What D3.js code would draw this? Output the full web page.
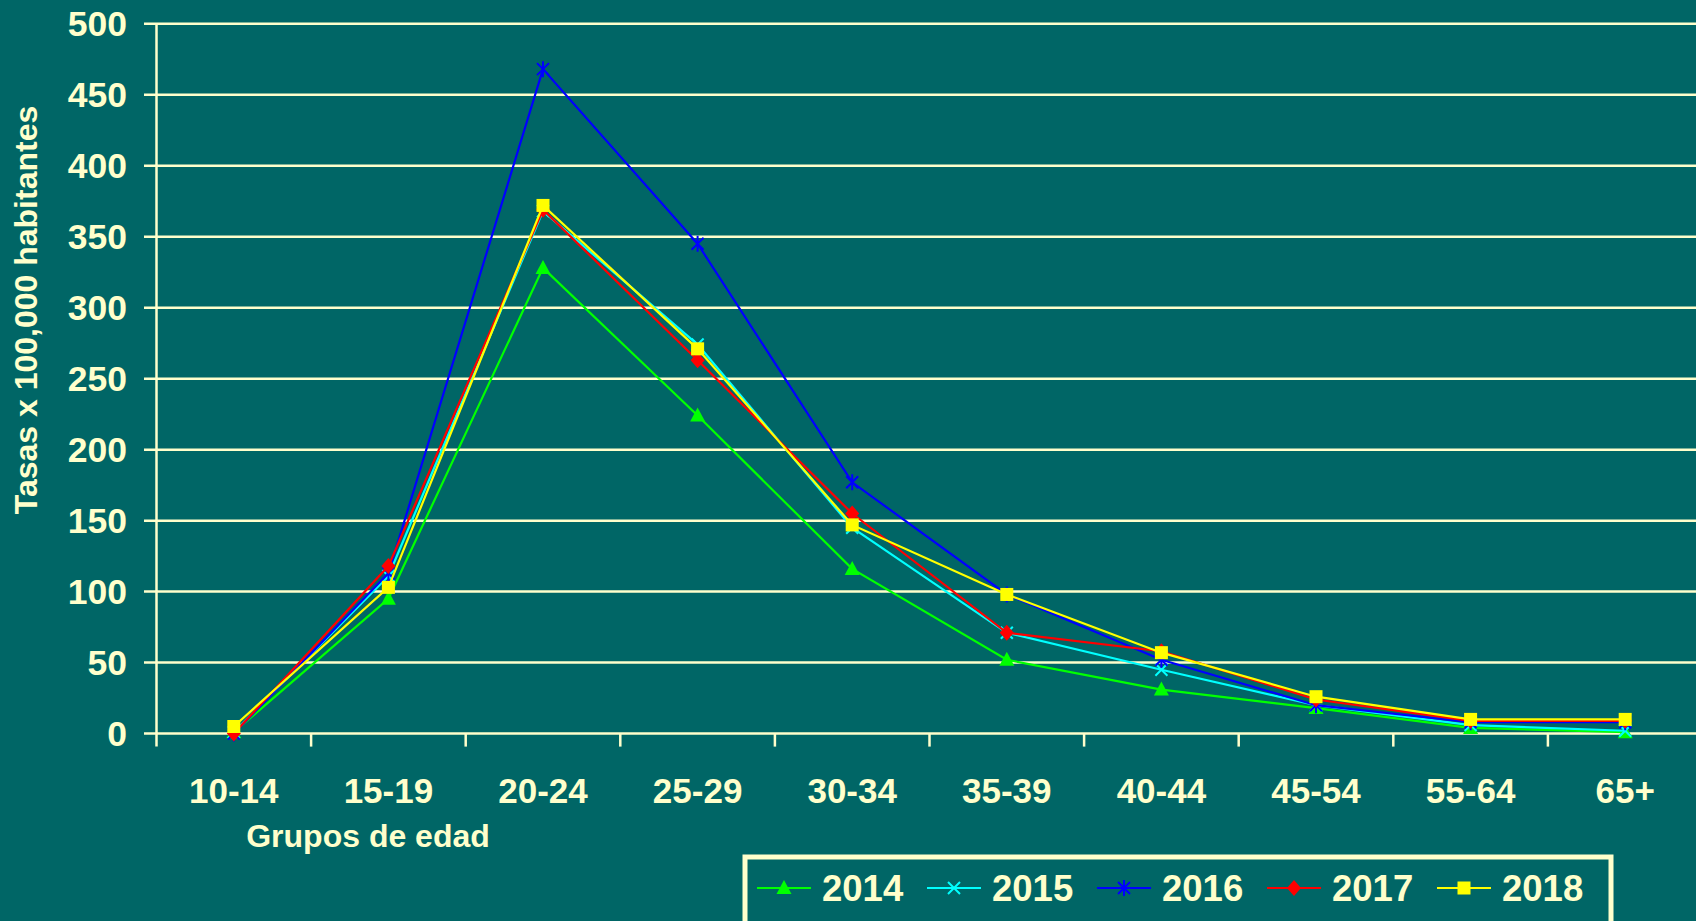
<!DOCTYPE html>
<html lang="es">
<head>
<meta charset="utf-8">
<title>Tasas por grupos de edad</title>
<script src="https://d3js.org/d3.v7.min.js"></script>
<style>
  html, body { margin: 0; padding: 0; background: #006666; }
  svg { display: block; }
  text { font-family: "Liberation Sans", Arial, sans-serif; font-weight: bold; fill: #FFFFCC; }
</style>
</head>
<body>
<script>
// data
const groups = ["10-14", "15-19", "20-24", "25-29", "30-34", "35-39", "40-44", "45-54", "55-64", "65+"];
const years = ["2014", "2015", "2016", "2017", "2018"];
const v2014 = [1, 95, 328, 224, 116, 52, 31, 18, 4, 1];
const v2015 = [1, 111, 368, 274, 145, 71, 45, 20, 6, 2];
const v2016 = [0, 113, 468, 345, 177, 98, 52, 20, 8, 8];
const v2017 = [0, 118, 369, 263, 155, 71, 58, 24, 9, 9];
const v2018 = [5, 103, 372, 271, 147, 98, 57, 26, 10, 10];
const yTicks = [0, 50, 100, 150, 200, 250, 300, 350, 400, 450, 500];

const colors = ["#00FF00", "#00FFFF", "#0000FF", "#FF0000", "#FFFF00"];
const shapes = ["triangle", "x", "star", "diamond", "square"];
const series = years.map((y, i) => ({
  year: y, values: [v2014, v2015, v2016, v2017, v2018][i], color: colors[i], shape: shapes[i]
}));

const W = 1696, H = 921;
const cream = "#FFFFCC";

const svg = d3.select("body").append("svg").attr("width", W).attr("height", H);
svg.append("rect").attr("width", W).attr("height", H).attr("fill", "#006666");

const x = d3.scaleBand().domain(groups).range([156.5, 156.5 + 154.6 * groups.length]).padding(0);
const y = d3.scaleLinear().domain([0, 500]).range([733.6, 23.7]);

// grid lines + y ticks
svg.append("g").selectAll("line").data(yTicks).enter().append("line")
  .attr("x1", 144).attr("x2", W)
  .attr("y1", d => y(d)).attr("y2", d => y(d))
  .attr("stroke", cream).attr("stroke-width", 2.5);

// y axis line
svg.append("line").attr("x1", 156.5).attr("x2", 156.5)
  .attr("y1", y(500)).attr("y2", y(0) + 13)
  .attr("stroke", cream).attr("stroke-width", 2.5);

// x ticks between groups
svg.append("g").selectAll("line").data(groups.slice(1)).enter().append("line")
  .attr("x1", d => x(d)).attr("x2", d => x(d))
  .attr("y1", y(0)).attr("y2", y(0) + 13)
  .attr("stroke", cream).attr("stroke-width", 2.5);

// y tick labels
svg.append("g").selectAll("text").data(yTicks).enter().append("text")
  .attr("x", 127).attr("y", d => y(d))
  .attr("dy", "0.36em").attr("text-anchor", "end")
  .style("font-size", "35.5px").text(d => d);

// x tick labels
svg.append("g").selectAll("text").data(groups).enter().append("text")
  .attr("x", d => x(d) + x.bandwidth() / 2).attr("y", 790)
  .attr("dy", "0.36em").attr("text-anchor", "middle")
  .style("font-size", "35px").text(d => d);

// axis titles
svg.append("text").attr("transform", "translate(25,310) rotate(-90)")
  .attr("dy", "0.36em").attr("text-anchor", "middle")
  .style("font-size", "32px").text("Tasas x 100,000 habitantes");
svg.append("text").attr("x", 368).attr("y", 835)
  .attr("dy", "0.36em").attr("text-anchor", "middle")
  .style("font-size", "32px").text("Grupos de edad");

// markers
function drawMarker(g, shape, color, cx, cy) {
  if (shape === "triangle") {
    g.append("path").attr("d", `M${cx},${cy - 8}L${cx + 7.5},${cy + 6}L${cx - 7.5},${cy + 6}Z`).attr("fill", color);
  } else if (shape === "square") {
    g.append("rect").attr("x", cx - 6.5).attr("y", cy - 6.5).attr("width", 13).attr("height", 13).attr("fill", color);
  } else if (shape === "diamond") {
    g.append("path").attr("d", `M${cx},${cy - 8}L${cx + 7},${cy}L${cx},${cy + 8}L${cx - 7},${cy}Z`).attr("fill", color);
  } else if (shape === "x") {
    g.append("path").attr("d", `M${cx - 6},${cy - 6}L${cx + 6},${cy + 6}M${cx + 6},${cy - 6}L${cx - 6},${cy + 6}`)
      .attr("stroke", color).attr("stroke-width", 2);
  } else if (shape === "star") {
    g.append("path").attr("d", `M${cx - 6},${cy - 6}L${cx + 6},${cy + 6}M${cx + 6},${cy - 6}L${cx - 6},${cy + 6}M${cx},${cy - 8}L${cx},${cy + 8}`)
      .attr("stroke", color).attr("stroke-width", 2);
  }
}

const line = d3.line()
  .x((d, i) => x(groups[i]) + x.bandwidth() / 2)
  .y(d => y(d));

series.forEach(s => {
  const g = svg.append("g");
  g.append("path").datum(s.values).attr("d", line)
    .attr("fill", "none").attr("stroke", s.color).attr("stroke-width", 2.2);
  s.values.forEach((v, i) => drawMarker(g, s.shape, s.color, x(groups[i]) + x.bandwidth() / 2, y(v)));
});

// legend
svg.append("rect").attr("x", 745).attr("y", 857).attr("width", 866).attr("height", 100)
  .attr("fill", "none").attr("stroke", cream).attr("stroke-width", 5);
const leg = svg.append("g").selectAll("g").data(series).enter().append("g")
  .attr("transform", (d, i) => `translate(${757 + i * 170},888)`);
leg.append("line").attr("x1", 0).attr("x2", 54).attr("y1", 0).attr("y2", 0)
  .attr("stroke", d => d.color).attr("stroke-width", 2.2);
leg.each(function(d) { drawMarker(d3.select(this), d.shape, d.color, 27, 0); });
leg.append("text").attr("x", 65).attr("y", 0).attr("dy", "0.36em")
  .style("font-size", "36.5px").text(d => d.year);
</script>
</body>
</html>
